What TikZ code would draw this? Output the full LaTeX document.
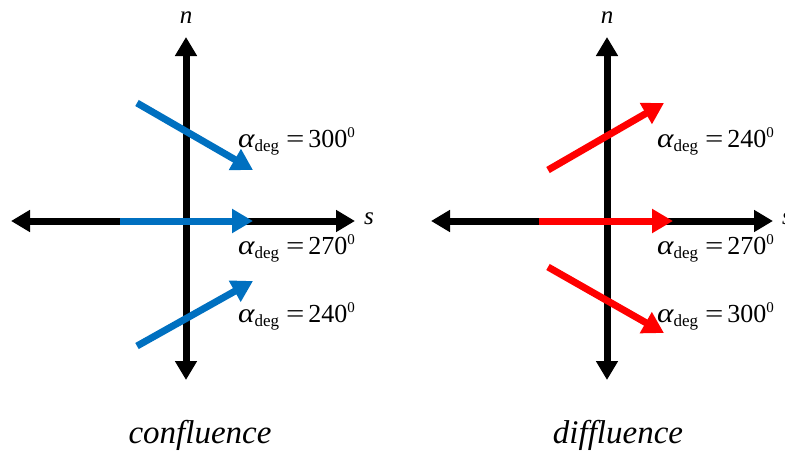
\documentclass[tikz,border=0pt]{standalone}
\usepackage{fontspec}
\setmainfont{Liberation Serif}
\usetikzlibrary{arrows.meta}
\definecolor{cblue}{HTML}{0070C0}
\definecolor{cred}{HTML}{FF0000}
\newcommand{\alab}[1]{{\fontsize{26}{26}\selectfont\scalebox{1.2}[1.05]{\itshape α}\raisebox{-0.17em}{\fontsize{17}{17}\selectfont deg}\hspace{7pt}\scalebox{1.25}[1]{=}\hspace{4pt}#1\raisebox{0.38em}{\fontsize{15}{15}\selectfont 0}}}
\begin{document}
\begin{tikzpicture}[x=1pt,y=-1pt,
  axisb/.style={line width=7pt,black,{Triangle[length=19pt,width=21pt]}-{Triangle[length=19pt,width=21pt]}},
  flow/.style={line width=7pt,-{Triangle[length=21pt,width=23pt]}},
  lab/.style={inner sep=0pt,anchor=base west},
  axlab/.style={inner sep=0pt,font=\fontsize{25}{25}\selectfont\itshape},
  captxt/.style={inner sep=0pt,anchor=base,font=\fontsize{33}{33}\selectfont\itshape}]
\useasboundingbox (0,0) rectangle (785,451);
% left diagram
\coordinate (L-top) at (186,37);
\coordinate (L-bot) at (186,380);
\coordinate (L-left) at (11,221);
\coordinate (L-right) at (355,221);
\draw[axisb] (L-bot) -- (L-top);
\draw[axisb] (L-left) -- (L-right);
\coordinate (B1s) at (137,103); \coordinate (B1e) at (253,170);
\coordinate (B2s) at (120,221); \coordinate (B2e) at (253,221);
\coordinate (B3s) at (137,346); \coordinate (B3e) at (253,281);
\draw[flow,cblue] (B1s) -- (B1e);
\draw[flow,cblue] (B2s) -- (B2e);
\draw[flow,cblue] (B3s) -- (B3e);
\node[axlab,anchor=base] (Ln) at (186,23) {n};
\node[axlab,anchor=west] (Ls) at (364,219) {s};
\node[lab] (L300) at (238,147) {\alab{300}};
\node[lab] (L270) at (238,254) {\alab{270}};
\node[lab] (L240) at (238,322) {\alab{240}};
\node[captxt] (conf) at (200,443) {confluence};
% right diagram
\coordinate (R-top) at (607,37);
\coordinate (R-bot) at (607,380);
\coordinate (R-left) at (431,221);
\coordinate (R-right) at (773,221);
\draw[axisb] (R-bot) -- (R-top);
\draw[axisb] (R-left) -- (R-right);
\coordinate (R1s) at (548,170); \coordinate (R1e) at (664,103);
\coordinate (R2s) at (539,221); \coordinate (R2e) at (673,221);
\coordinate (R3s) at (548,267); \coordinate (R3e) at (664,333);
\draw[flow,cred] (R1s) -- (R1e);
\draw[flow,cred] (R2s) -- (R2e);
\draw[flow,cred] (R3s) -- (R3e);
\node[axlab,anchor=base] (Rn) at (607,23) {n};
\node[axlab,anchor=west] (Rs) at (782,219) {s};
\node[lab] (R240) at (657,147) {\alab{240}};
\node[lab] (R270) at (657,254) {\alab{270}};
\node[lab] (R300) at (657,322) {\alab{300}};
\node[captxt] (diff) at (618,443) {diffluence};
\end{tikzpicture}
\end{document}
